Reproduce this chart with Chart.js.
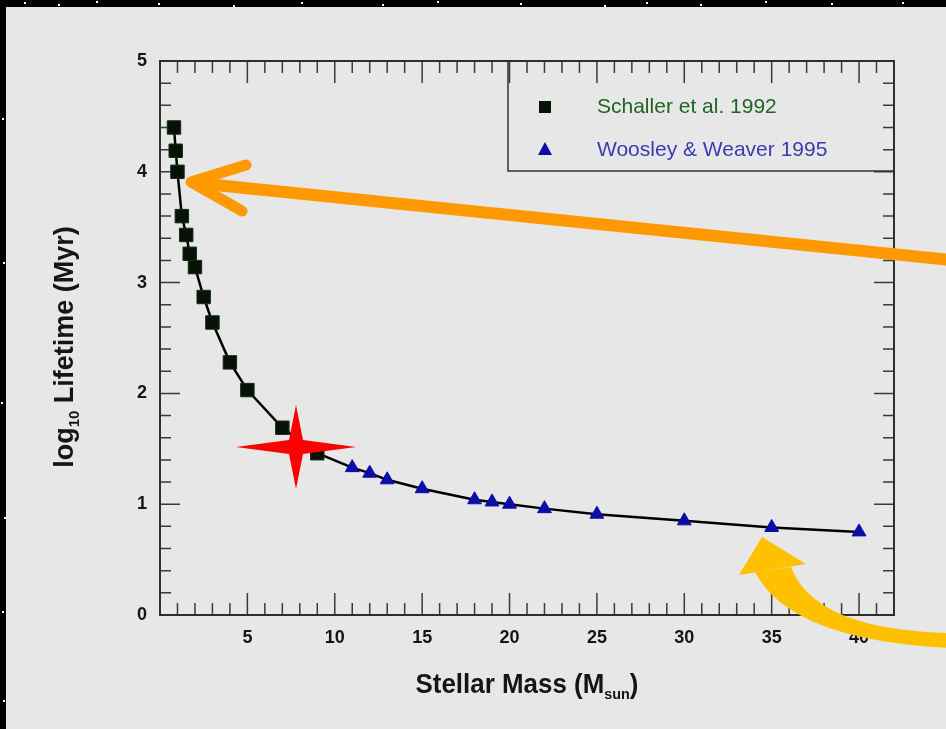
<!DOCTYPE html>
<html>
<head>
<meta charset="utf-8">
<script src="https://cdn.jsdelivr.net/npm/chart.js@4.4.0/dist/chart.umd.min.js"></script>
<style>
	html, body { margin: 0; padding: 0; background: #000; }
	canvas { display: block; }
</style>
</head>
<body>
<canvas id="lifetime-chart" width="946" height="729"></canvas>
<script>
// Schaller et al. 1992 (squares)
const schallerMass = [0.8, 0.9, 1, 1.25, 1.5, 1.7, 2, 2.5, 3, 4, 5, 7, 9];
const schallerLogLife = [4.40, 4.19, 4.00, 3.60, 3.43, 3.26, 3.14, 2.87, 2.64, 2.28, 2.03, 1.69, 1.46];

// Woosley & Weaver 1995 (triangles)
const wwMass = [11, 12, 13, 15, 18, 19, 20, 22, 25, 30, 35, 40];
const wwLogLife = [1.33, 1.28, 1.22, 1.14, 1.04, 1.02, 1.00, 0.96, 0.91, 0.85, 0.79, 0.75];

const xTickValues = [5, 10, 15, 20, 25, 30, 35, 40];
const yTickValues = [0, 1, 2, 3, 4, 5];

const FONT = '"Liberation Sans", Arial, Helvetica, sans-serif';
const canvas = document.getElementById('lifetime-chart');

const toPoints = (xs, ys) => xs.map((x, i) => ({ x: x, y: ys[i] }));

// black slide background + grey panel
const backdrop = {
	id: 'backdrop',
	beforeDraw(chart) {
		const ctx = chart.ctx;
		ctx.save();
		ctx.fillStyle = '#000';
		ctx.fillRect(0, 0, chart.width, chart.height);
		ctx.fillStyle = '#fff';
		const dots = [[24, 2], [58, 4], [96, 1], [158, 3], [233, 5], [301, 2], [382, 4], [437, 1], [520, 3], [604, 5], [646, 2], [700, 4], [765, 1], [831, 3], [902, 2], [2, 118], [3, 262], [1, 402], [4, 517], [2, 611], [3, 700]];
		dots.forEach(d => ctx.fillRect(d[0], d[1], 2, 2));
		ctx.fillStyle = '#e7e7e7';
		ctx.fillRect(6, 7, chart.width - 6, chart.height - 7);
		ctx.restore();
	}
};

// frame with inward ticks on all four sides
const frame = {
	id: 'frame',
	beforeDatasetsDraw(chart) {
		const { ctx, chartArea: a, scales: { x, y } } = chart;
		ctx.save();
		ctx.strokeStyle = '#3a3a3a';
		ctx.lineWidth = 1.5;
		ctx.beginPath();
		for (let v = 1; v < 42; v++) {
			const px = x.getPixelForValue(v);
			const len = v % 5 === 0 ? 22 : 12;
			ctx.moveTo(px, a.bottom); ctx.lineTo(px, a.bottom - len);
			ctx.moveTo(px, a.top); ctx.lineTo(px, a.top + len);
		}
		for (let i = 1; i < 25; i++) {
			const py = y.getPixelForValue(i * 0.2);
			const len = i % 5 === 0 ? 20 : 11;
			ctx.moveTo(a.left, py); ctx.lineTo(a.left + len, py);
			ctx.moveTo(a.right, py); ctx.lineTo(a.right - len, py);
		}
		ctx.stroke();
		ctx.lineWidth = 2;
		ctx.strokeStyle = '#2e2e2e';
		ctx.strokeRect(a.left, a.top, a.right - a.left, a.bottom - a.top);
		ctx.restore();
	}
};

// centred text with subscripts, squeezed a bit horizontally
function drawRich(ctx, parts, x, y, squeeze) {
	let w = 0;
	parts.forEach(p => { ctx.font = p.font; w += ctx.measureText(p.text).width; });
	ctx.save();
	ctx.translate(x, y);
	ctx.scale(squeeze, 1);
	let cx = -w / 2;
	parts.forEach(p => {
		ctx.font = p.font;
		ctx.fillText(p.text, cx, p.dy || 0);
		cx += ctx.measureText(p.text).width;
	});
	ctx.restore();
}

// axis titles, legend box and slide annotations
const overlay = {
	id: 'overlay',
	afterDraw(chart) {
		const { ctx, chartArea: a } = chart;
		const big = 'bold 27px ' + FONT;
		const sub = 'bold 15px ' + FONT;
		ctx.save();
		ctx.fillStyle = '#151515';
		ctx.textBaseline = 'alphabetic';
		ctx.textAlign = 'left';
		drawRich(ctx, [
			{ text: 'Stellar Mass (M', font: big },
			{ text: 'sun', font: sub, dy: 6 },
			{ text: ')', font: big }
		], 527, 693, 0.96);
		ctx.save();
		ctx.translate(73, 347);
		ctx.rotate(-Math.PI / 2);
		drawRich(ctx, [
			{ text: 'log', font: big },
			{ text: '10', font: sub, dy: 6 },
			{ text: ' Lifetime (Myr)', font: big }
		], 0, 0, 1.0);
		ctx.restore();

		// legend
		const ds = chart.data.datasets;
		const lx = 508, lb = 171;
		ctx.strokeStyle = '#333';
		ctx.lineWidth = 1.5;
		ctx.beginPath();
		ctx.moveTo(lx, a.top); ctx.lineTo(lx, lb); ctx.lineTo(a.right, lb);
		ctx.stroke();
		ctx.fillStyle = ds[0].backgroundColor;
		ctx.fillRect(539, 101, 12, 12);
		ctx.fillStyle = ds[1].backgroundColor;
		ctx.beginPath();
		ctx.moveTo(545, 142); ctx.lineTo(552, 155); ctx.lineTo(538, 155); ctx.closePath();
		ctx.fill();
		ctx.font = '21px ' + FONT;
		ctx.textBaseline = 'middle';
		ctx.fillStyle = '#1f641f';
		ctx.fillText(ds[0].label, 597, 107);
		ctx.fillStyle = '#3a3ab2';
		ctx.fillText(ds[1].label, 597, 150);

		// orange arrow
		ctx.strokeStyle = '#ff9900';
		ctx.lineCap = 'round';
		ctx.lineJoin = 'round';
		ctx.lineWidth = 12;
		ctx.beginPath();
		ctx.moveTo(196, 183); ctx.lineTo(960, 261);
		ctx.stroke();
		ctx.lineWidth = 11;
		ctx.beginPath();
		ctx.moveTo(246, 165); ctx.lineTo(191, 182); ctx.lineTo(242, 211);
		ctx.stroke();

		// red star
		const sx = 296, sy = 447;
		ctx.fillStyle = '#ff0000';
		ctx.beginPath();
		ctx.moveTo(sx, sy - 42);
		ctx.lineTo(sx + 7, sy - 7);
		ctx.lineTo(sx + 60, sy);
		ctx.lineTo(sx + 7, sy + 7);
		ctx.lineTo(sx, sy + 42);
		ctx.lineTo(sx - 7, sy + 7);
		ctx.lineTo(sx - 60, sy);
		ctx.lineTo(sx - 7, sy - 7);
		ctx.closePath();
		ctx.fill();

		// yellow curved arrow
		ctx.fillStyle = '#ffc000';
		ctx.beginPath();
		ctx.moveTo(755, 572);
		ctx.quadraticCurveTo(790, 640, 950, 648);
		ctx.lineTo(950, 633);
		ctx.quadraticCurveTo(815, 630, 791, 567);
		ctx.closePath();
		ctx.fill();
		ctx.beginPath();
		ctx.moveTo(739, 575); ctx.lineTo(762, 537); ctx.lineTo(806, 564);
		ctx.closePath();
		ctx.fill();
		ctx.restore();
	}
};

const tickFont = { family: FONT, size: 18, weight: 'bold' };

const lifetimeChart = new Chart(canvas, {
	type: 'scatter',
	data: {
		datasets: [{
			label: 'Schaller et al. 1992',
			data: toPoints(schallerMass, schallerLogLife),
			pointStyle: 'rect',
			pointRadius: 9.5,
			backgroundColor: '#071207',
			borderColor: '#132d13',
			borderWidth: 1
		}, {
			label: 'Woosley & Weaver 1995',
			data: toPoints(wwMass, wwLogLife),
			pointStyle: 'triangle',
			pointRadius: 8,
			backgroundColor: '#0c0ca8',
			borderColor: '#0c0ca8',
			borderWidth: 1
		}, {
			label: 'curve',
			data: toPoints(schallerMass.concat(wwMass), schallerLogLife.concat(wwLogLife)),
			showLine: true,
			pointRadius: 0,
			borderColor: '#000',
			borderWidth: 2.5,
			fill: false
		}]
	},
	options: {
		responsive: false,
		animation: false,
		events: [],
		layout: { padding: { top: 61, right: 52, left: 0, bottom: 0 } },
		scales: {
			x: {
				type: 'linear',
				min: 0,
				max: 42,
				grid: { display: false, drawTicks: false },
				border: { display: false },
				afterBuildTicks: s => { s.ticks = xTickValues.map(v => ({ value: v })); },
				afterFit: s => { s.height = 114; },
				ticks: { padding: 12, font: tickFont, color: '#151515', maxRotation: 0, autoSkip: false }
			},
			y: {
				type: 'linear',
				min: 0,
				max: 5,
				grid: { display: false, drawTicks: false },
				border: { display: false },
				afterBuildTicks: s => { s.ticks = yTickValues.map(v => ({ value: v })); },
				afterFit: s => { s.width = 160; },
				ticks: { padding: 13, font: tickFont, color: '#151515', autoSkip: false }
			}
		},
		plugins: {
			legend: { display: false },
			tooltip: { enabled: false }
		}
	},
	plugins: [backdrop, frame, overlay]
});
</script>
</body>
</html>
